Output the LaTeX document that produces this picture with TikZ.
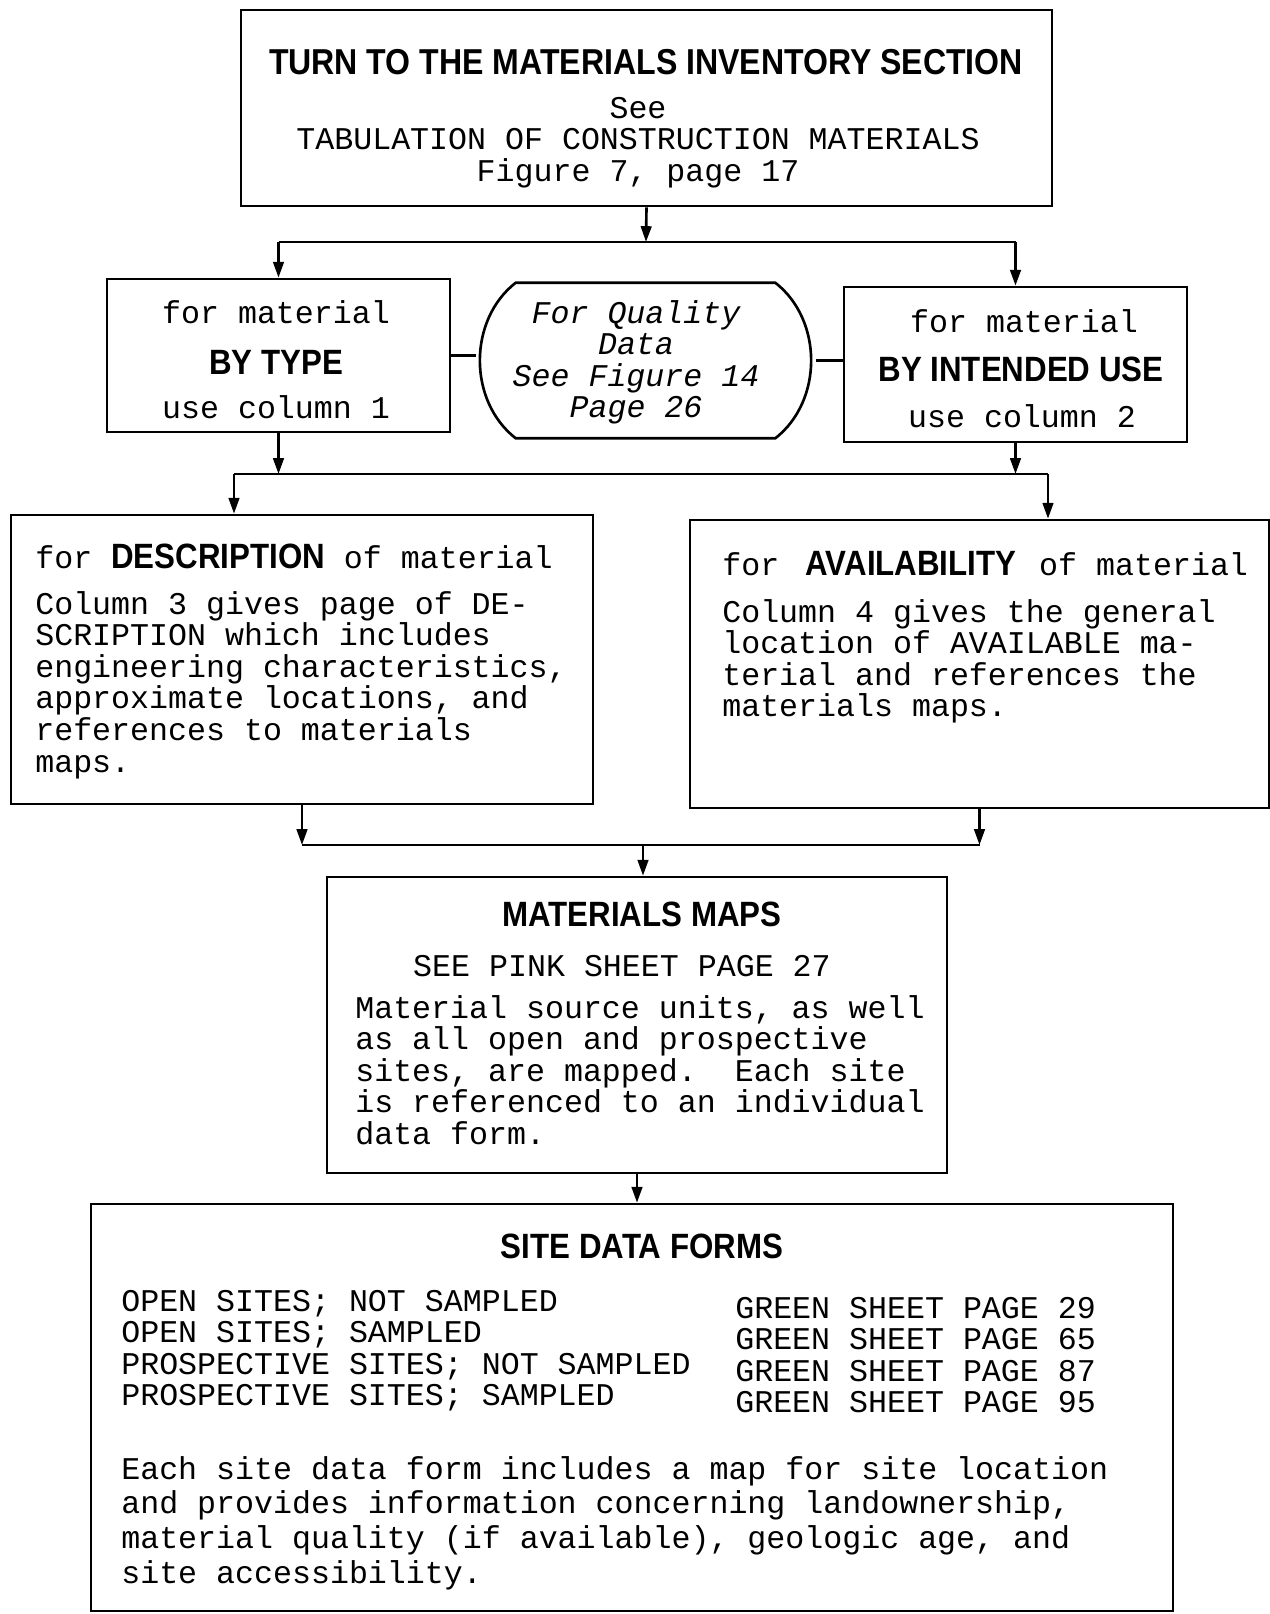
\documentclass[tikz,border=0pt]{standalone}
\usepackage{fontspec}
\setmainfont{Liberation Mono}
\newfontfamily\headfont[FakeStretch=0.89]{Liberation Sans}
\usetikzlibrary{arrows.meta,calc}

% typewriter gaps, also inside ragged (align=...) nodes
\newcommand{\evengaps}{\spaceskip=\fontdimen2\font\xspaceskip=\fontdimen2\font\relax}
\newcommand{\boldhead}[1]{{\headfont\bfseries\fontsize{20}{20}\selectfont #1}}

\begin{document}
\frenchspacing
\begin{tikzpicture}[x=0.02cm, y=-0.02cm, line width=1.5pt,
	box/.style={draw, inner sep=0pt},
	txt/.style={inner sep=0pt, font=\fontsize{18}{18}\selectfont},
	arr/.style={-{Triangle[length=9pt, width=6pt]}}]
	\useasboundingbox (0, 0) rectangle (1270, 1614);
	% Boxes:
	\node[box, minimum width=16.22cm, minimum height=3.92cm] (topbox) at (646.5, 108){};
	\node[box, minimum width=6.86cm, minimum height=3.06cm] (typebox) at (278.5, 355.5){};
	\node[minimum width=6.76cm, minimum height=3.06cm, inner sep=0pt] (qual) at (646, 360.5){};
	\node[box, minimum width=6.86cm, minimum height=3.10cm] (usebox) at (1015.5, 364.5){};
	\node[box, minimum width=11.64cm, minimum height=5.78cm] (descbox) at (302, 659.5){};
	\node[box, minimum width=11.58cm, minimum height=5.76cm] (availbox) at (979.5, 664){};
	\node[box, minimum width=12.40cm, minimum height=5.92cm] (mapsbox) at (637, 1025){};
	\node[box, minimum width=21.64cm, minimum height=8.14cm] (sitebox) at (632, 1407.5){};
	\draw ($(qual.north west)+(40, 0)$) -- ($(qual.north east)+(-41, 0)$) to[bend left=52] ($(qual.south east)+(-41, 0)$) -- ($(qual.south west)+(40, 0)$) to[bend left=52] ($(qual.north west)+(40, 0)$) -- cycle;
	% Texts:
	\node[txt, anchor=base] (toptitle) at (646, 74){\boldhead{\fontsize{20.5}{20.5}\selectfont TURN TO THE MATERIALS INVENTORY SECTION}};
	\node[txt, anchor=base, text width=15cm, align=center] (topnote) at (638, 118){\evengaps See\\TABULATION OF CONSTRUCTION MATERIALS\\Figure 7, page 17};
	\node[txt, anchor=base] (typefor) at (276, 323){for material};
	\node[txt, anchor=base] (typehead) at (276, 374.5){\boldhead{BY TYPE}};
	\node[txt, anchor=base] (typecol) at (276, 418){use column 1};
	\node[txt, anchor=base, text width=6cm, align=center] (qualnote) at (636, 323){\evengaps\itshape For Quality\\Data\\See Figure 14\\Page 26};
	\node[txt, anchor=base] (usefor) at (1024, 332){for material};
	\node[txt, anchor=base] (usehead) at (1021, 381.5){\boldhead{BY INTENDED USE}};
	\node[txt, anchor=base] (usecol) at (1022, 427){use column 2};
	\node[txt, anchor=base west] (deschead) at (34, 568){for \boldhead{DESCRIPTION} of material};
	\node[txt, anchor=base west, text width=11.2cm, align=left] (descnote) at (34, 614){\evengaps Column 3 gives page of DE-\\SCRIPTION which includes\\engineering characteristics,\\approximate locations, and\\references to materials\\maps.};
	\node[txt, anchor=base west] (availhead) at (721, 575){for\hspace{15pt}\boldhead{AVAILABILITY}\hspace{13pt}of material};
	\node[txt, anchor=base west, text width=11.2cm, align=left] (availnote) at (721, 622){\evengaps Column 4 gives the general\\location of AVAILABLE ma-\\terial and references the\\materials maps.};
	\node[txt, anchor=base] (mapshead) at (642, 926.5){\boldhead{MATERIALS MAPS}};
	\node[txt, anchor=base] (mapspink) at (622, 976.5){SEE PINK SHEET PAGE 27};
	\node[txt, anchor=base west, text width=11.6cm, align=left] (mapsnote) at (354, 1018){\evengaps Material source units, as well\\as all open and prospective\\sites, are mapped.\ \ Each site\\is referenced to an individual\\data form.};
	\node[txt, anchor=base] (sitehead) at (642, 1258.5){\boldhead{SITE DATA FORMS}};
	\node[txt, anchor=base west, text width=11.6cm, align=left] (sitelist) at (120, 1311){\evengaps OPEN SITES; NOT SAMPLED\\OPEN SITES; SAMPLED\\PROSPECTIVE SITES; NOT SAMPLED\\PROSPECTIVE SITES; SAMPLED};
	\node[txt, anchor=base west, text width=8cm, align=left] (sitepages) at (734, 1318){\evengaps GREEN SHEET PAGE 29\\GREEN SHEET PAGE 65\\GREEN SHEET PAGE 87\\GREEN SHEET PAGE 95};
	\node[txt, anchor=base west, text width=21cm, align=left, font=\fontsize{18}{19.8}\selectfont] (sitenote) at (120, 1479){\evengaps Each site data form includes a map for site location\\and provides information concerning landownership,\\material quality (if available), geologic age, and\\site accessibility.};
	% Connectors:
	\coordinate (j1) at (646, 242);
	\coordinate (j1l) at (typebox.north |- j1);
	\coordinate (j1r) at (usebox.north |- j1);
	\draw[arr] (topbox.south) -- (j1);
	\draw (j1l) -- (j1r);
	\draw[arr] (j1l) -- (typebox.north);
	\draw[arr] (j1r) -- (usebox.north);
	\draw (typebox.east) -- (typebox.east -| qual.west);
	\draw (qual.east) -- (qual.east -| usebox.west);
	\coordinate (j2l) at (234, 474);
	\coordinate (j2r) at (1048, 474);
	\draw[arr] (typebox.south) -- (typebox.south |- j2l);
	\draw[arr] (usebox.south) -- (usebox.south |- j2r);
	\draw (j2l) -- (j2r);
	\draw[arr] (j2l) -- (j2l |- descbox.north);
	\draw[arr] (j2r) -- (j2r |- availbox.north);
	\coordinate (j3) at (643, 845);
	\draw[arr] (descbox.south) -- (descbox.south |- j3);
	\draw[arr] (availbox.south) -- (availbox.south |- j3);
	\draw (descbox.south |- j3) -- (availbox.south |- j3);
	\draw[arr] (j3) -- (j3 |- mapsbox.north);
	\draw[arr] (mapsbox.south) -- (mapsbox.south |- sitebox.north);
\end{tikzpicture}
\end{document}
